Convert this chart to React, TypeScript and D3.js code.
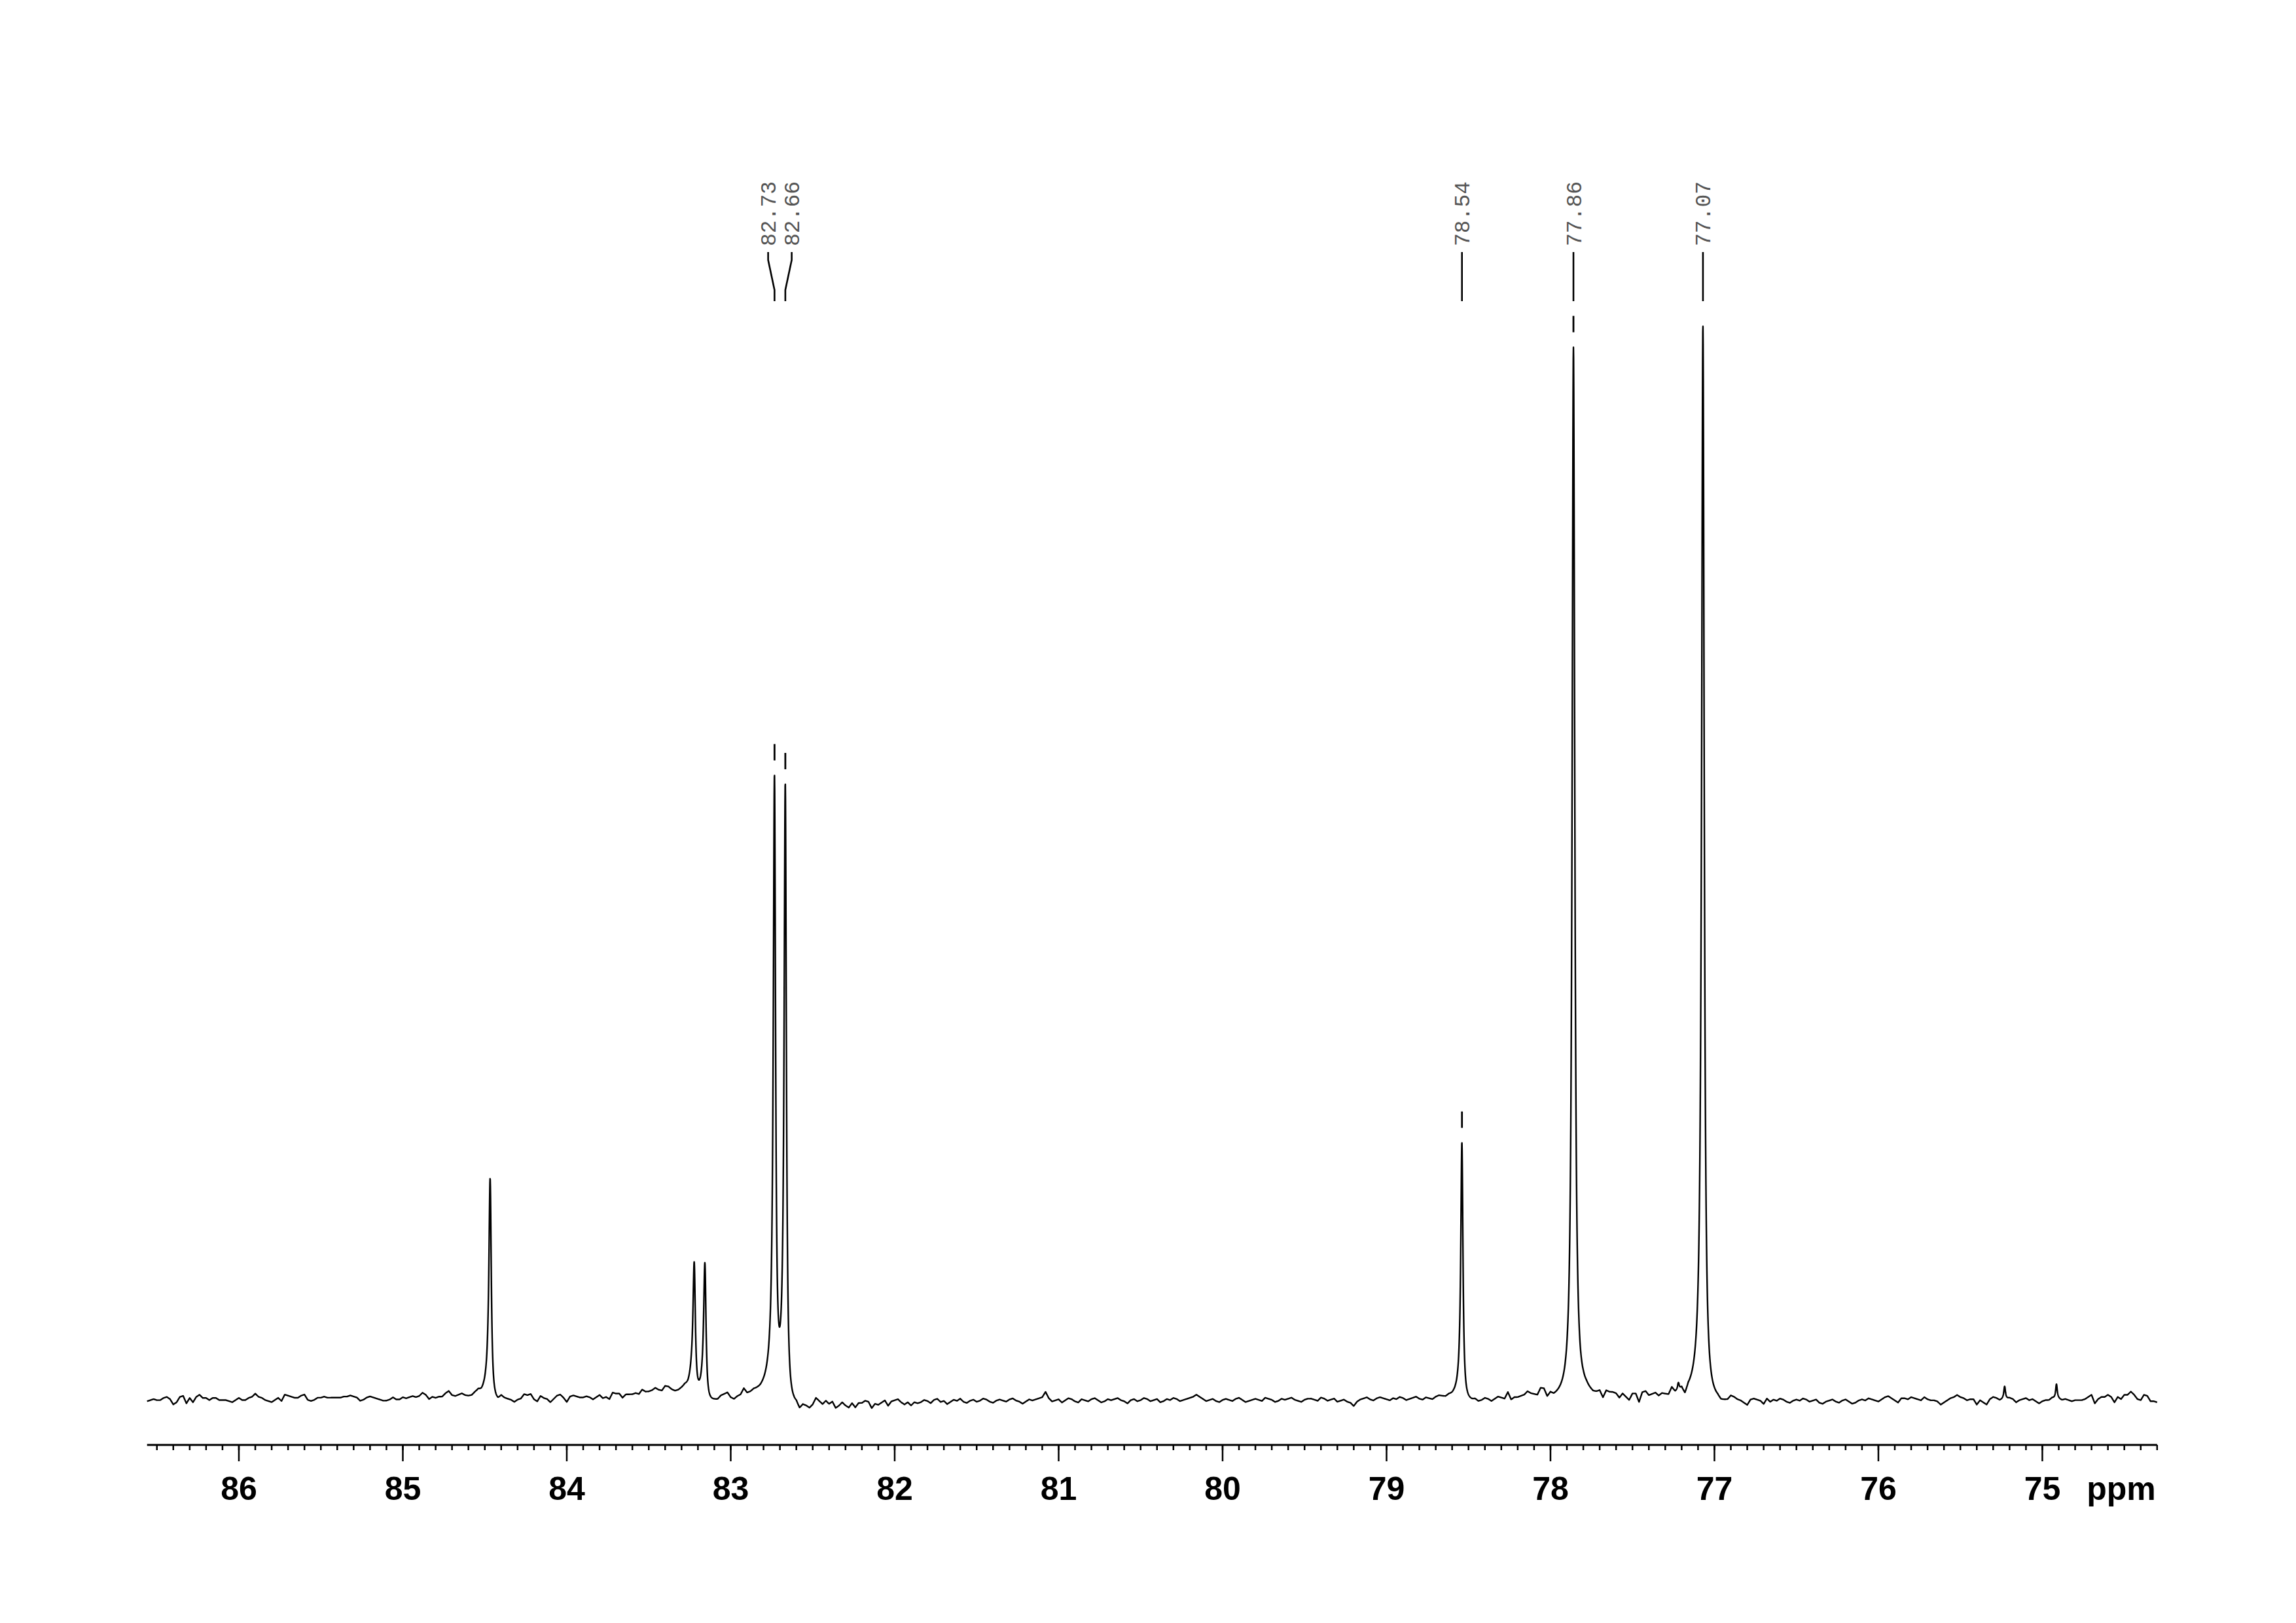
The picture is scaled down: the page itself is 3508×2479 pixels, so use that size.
import React from "react";
import * as d3 from "d3";

const WIDTH = 3508;
const HEIGHT = 2479;

// ---- Spectrum peaks ----
// chemical shift (ppm), height (a.u., 77.07 ppm = 1000), half width at half height (ppm), dispersive fraction
const peakPpm = [84.467, 83.222, 83.157, 82.733, 82.667, 78.54, 77.86, 77.22, 77.07, 75.23, 74.914];
const peakHeight = [204, 119, 125, 566, 572, 239, 980, 7, 1000, 12, 14];
const peakHwhm = [0.0088, 0.0088, 0.0088, 0.0084, 0.0084, 0.008, 0.0096, 0.006, 0.0096, 0.006, 0.006];
const peakDispersion = [0.15, 0.2, 0.2, 0.1, 0.1, 0.1, 0, 0, 0.05, 0, 0];

// ---- Peak-picking labels ----
const labelPpm = [82.73, 82.66, 78.54, 77.86, 77.07];
const labelPeakPpm = [82.733, 82.667, 78.54, 77.86, 77.07];

// ---- Baseline noise (a.u.), sampled every 0.02 ppm, starting at the given ppm ----
const baselineStart = [86.56, 84.66, 83.06, 81.84, 78.26, 76.66, 75.88];
const baselineA = [
  -2, -1, 0, -1, -1, 1, 2, 0, -5, -3,
  2, 3, -4, 1, -3, 2, 4, 1, 1, -1,
  1, 1, -1, -1, -1, -2, -3, -1, 1, -1,
  -1, 1, 2, 5, 2, 1, -1, -2, -3, -1,
  1, -2, 4, 3, 2, 1, 1, 3, 4, -1,
  -2, -1, 1, 1, 2, 1, 1, 1, 1, 1,
  2, 2, 3, 2, 1, -2, -1, 1, 2, 1,
  0, -1, -2, -2, -1, 1, -1, -1, 1, 0,
  1, 2, 1, 2, 5, 3, -1, 1, 0, 1,
  1, 4, 6, 2, 1,
];
const baselineB = [
  2, 3, 1, 0, 0, 2, 3, 0, 0, 0,
  0, 0, 0, 4, 2, 1, 0, -2, 0, 1,
  5, 4, 5, 0, -2, 3, 1, 0, -3, 0,
  3, 4, 1, -3, 2, 3, 2, 1, 1, 2,
  1, -1, 1, 3, 0, 1, -1, 5, 4, 4,
  0, 3, 3, 3, 4, 3, 7, 5, 5, 6,
  8, 6, 5, 9, 8, 5, 3, 3, 4, 5,
  3, 5, 0, 0, 0, 0, 0, 0, 0, 0,
];
const baselineC = [
  3, 4, 5, 0, -2, 0, 1, 6, 1, 1,
  2, 1, 0, 0, 0, 0, 0, 0, 0, 0,
  0, 0, 0, 0, -5, -1, -2, -4, -1, 5,
  2, -1, 2, -1, 1, -5, -3, 0, -3, -5,
  -1, -5, -1, -1, 1, 0, -6, -2, -3, -1,
  1, -4, 0, 1, 2, -1, -3, -1, -4, -1,
  -2,
];
const baselineD = [
  -1, 1, 0, -2, 1, 2, -1, 0, -3, -1,
  1, 0, 2, -1, -2, 0, 1, -1, 0, 2,
  1, -1, -2, 0, 1, 0, -1, 1, 2, 0,
  -1, -3, -1, 1, 0, 1, 2, 3, 8, 2,
  -1, 0, 1, -2, 0, 2, 1, -1, -2, 1,
  0, -1, 1, 2, 0, -2, -1, 1, 0, 1,
  2, 0, -1, -3, 0, 1, -1, 0, 2, 1,
  -1, 0, 1, -2, -1, 1, 0, 2, 1, -1,
  0, 1, 2, 3, 5, 3, 1, -1, 0, 1,
  -1, -2, 0, 1, 0, -1, 1, 2, 0, -2,
  -1, 0, 1, 0, -1, 2, 1, 0, -2, -1,
  1, 0, 1, 2, 0, -1, -2, 0, 1, 1,
  0, -1, 2, 1, -1, 0, 1, -2, -1, 0,
  -2, -3, -6, -2, 0, 1, 2, 0, -1, 1,
  2, 1, 0, -1, 1, 0, 2, 1, -1, 0,
  1, 2, 0, -1, 1, 0, -1, 1, 2, 1,
  0, 1, 0, 0, 0, 0, 0, 0, 0, 1,
  -1, 0, 2, 1, -1, 1, 3, 2, 1,
];
const baselineE = [
  7, 0, 2, 2, 3, 4, 7, 5, 4, 3,
  9, 8, 0, 3, 0, 0, 0, 0, 0, 0,
  0, 0, 0, 3, 4, 3, 2, 3, 5, -1,
  6, 5, 5, 4, 0, 4, 1, -2, 4, 4,
  -4, 5, 6, 2, 3, 4, 1, 3, 2, 1,
  7, 2, 2, 3, -5, 0, 0, 0, 0, 0,
  0, 0, 0, 0, 0, -2, -1, 0, 4, 3,
  1, 0, -2, -4, 1, 2, 1, 0, -3, 2,
];
const baselineF = [
  -1, 1, 0, 2, 1, -1, -2, 0, 1, 0,
  2, 1, -1, 0, 1, -2, -3, -1, 0, 1,
  -1, -2, 0, 1, -1, -3, -2, 0, 1, 0,
  2, 1, 0, -1, 1, 3, 4, 2, 0,
];
const baselineG = [
  -2, 2, 2, 1, 3, 2, 1, 0, 3, 1,
  0, 0, -1, -4, -2, 0, 2, 3, 5, 3,
  2, 0, 1, 1, -4, 0, -2, -4, 1, 3,
  2, 0, 1, 1, 2, 1, -2, 0, 1, 2,
  0, 1, -1, -3, -1, 0, 0, 2, 1, 1,
  0, 1, 0, -1, 0, 0, 0, 1, 3, 5,
  -3, 1, 3, 3, 5, 3, -2, 3, 1, 5,
  5, 8, 5, 1, 0, 5, 4, -1, -1, -2,
];

// ---- Axis ----
const ppmDomain = [86.56, 74.3];
const majorTicks = [86, 85, 84, 83, 82, 81, 80, 79, 78, 77, 76, 75];
const axisUnit = "ppm";
const intensityDomain = [0, 1000];

export default function App() {
  const x = d3.scaleLinear().domain(ppmDomain).range([224.7, 3295.8]);
  const y = d3.scaleLinear().domain(intensityDomain).range([2138, 498]);

  const segments = [baselineA, baselineB, baselineC, baselineD, baselineE, baselineF, baselineG];
  const pts: [number, number][] = [];
  segments.forEach((vals, s) => {
    vals.forEach((v, j) => {
      pts.push([Math.round((baselineStart[s] - 0.02 * j) * 1000) / 1000, v]);
    });
  });
  pts.sort((a, b) => b[0] - a[0]);
  const noise = d3
    .scaleLinear()
    .domain(pts.map((p) => p[0]))
    .range(pts.map((p) => p[1]))
    .clamp(true);

  const f = (p: number) => {
    let v = noise(p);
    for (let i = 0; i < peakPpm.length; i++) {
      const t = (p - peakPpm[i]) / peakHwhm[i];
      v += (peakHeight[i] * (1 + peakDispersion[i] * t)) / (1 + t * t);
    }
    return v;
  };

  const n = Math.round((ppmDomain[0] - ppmDomain[1]) / 0.001);
  const grid = d3
    .range(0, n + 1)
    .map((k) => ppmDomain[0] - k * 0.001)
    .concat(peakPpm)
    .sort((a, b) => b - a);
  const line = d3
    .line<number>()
    .x((p) => x(p))
    .y((p) => y(f(p)));
  const specPath = line(grid) || "";

  const minorTicks = d3.range(743, 866).map((v) => v / 10);

  // label layout: spread clustered labels
  const peakX = labelPeakPpm.map((p) => x(p));
  const minGap = 36;
  const labelX: number[] = [];
  let i = 0;
  while (i < peakX.length) {
    let j = i;
    while (j + 1 < peakX.length && peakX[j + 1] - peakX[j] < minGap) j++;
    const cnt = j - i + 1;
    const mean = d3.mean(peakX.slice(i, j + 1)) as number;
    for (let k = 0; k < cnt; k++) labelX.push(mean + (k - (cnt - 1) / 2) * minGap);
    i = j + 1;
  }

  const axisY = 2207;

  return (
    <svg
      width={WIDTH}
      height={HEIGHT}
      viewBox={`0 0 ${WIDTH} ${HEIGHT}`}
      style={{ position: "fixed", left: 0, top: 0, background: "#fff" }}
    >
      <rect x={0} y={0} width={WIDTH} height={HEIGHT} fill="#fff" />
      {/* spectrum */}
      <path d={specPath} fill="none" stroke="#000" strokeWidth={2.4} strokeLinejoin="round" />

      {/* peak labels */}
      {labelPpm.map((p, k) => {
        const lx = labelX[k];
        const px = peakX[k];
        const top = y(f(labelPeakPpm[k]));
        const dashTop = top - 48;
        return (
          <g key={k}>
            <text
              transform={`translate(${lx},376) rotate(-90)`}
              dy="0.35em"
              fontFamily="'Liberation Mono', 'DejaVu Sans Mono', monospace"
              fontSize={33}
              fill="#555"
            >
              {p.toFixed(2)}
            </text>
            <path
              d={`M${lx},385 L${lx},397 L${px},443 L${px},460`}
              fill="none"
              stroke="#000"
              strokeWidth={2.6}
            />
            {dashTop > 470 && (
              <line x1={px} x2={px} y1={dashTop} y2={top - 23} stroke="#000" strokeWidth={2.8} />
            )}
          </g>
        );
      })}

      {/* axis */}
      <line x1={x(ppmDomain[0])} x2={x(ppmDomain[1])} y1={axisY} y2={axisY} stroke="#000" strokeWidth={3} />
      {minorTicks.map((t) => (
        <line key={`m${t}`} x1={x(t)} x2={x(t)} y1={axisY} y2={axisY + 8} stroke="#000" strokeWidth={2.5} />
      ))}
      {majorTicks.map((t) => (
        <g key={`M${t}`}>
          <line x1={x(t)} x2={x(t)} y1={axisY} y2={axisY + 25} stroke="#000" strokeWidth={2.5} />
          <text
            x={x(t)}
            y={2291}
            textAnchor="middle"
            fontFamily="'Liberation Sans', Arial, sans-serif"
            fontWeight="bold"
            fontSize={50}
            fill="#000"
          >
            {t}
          </text>
        </g>
      ))}
      <text
        x={x(ppmDomain[1]) - 2}
        y={2291}
        textAnchor="end"
        fontFamily="'Liberation Sans', Arial, sans-serif"
        fontWeight="bold"
        fontSize={50}
        fill="#000"
      >
        {axisUnit}
      </text>
    </svg>
  );
}
